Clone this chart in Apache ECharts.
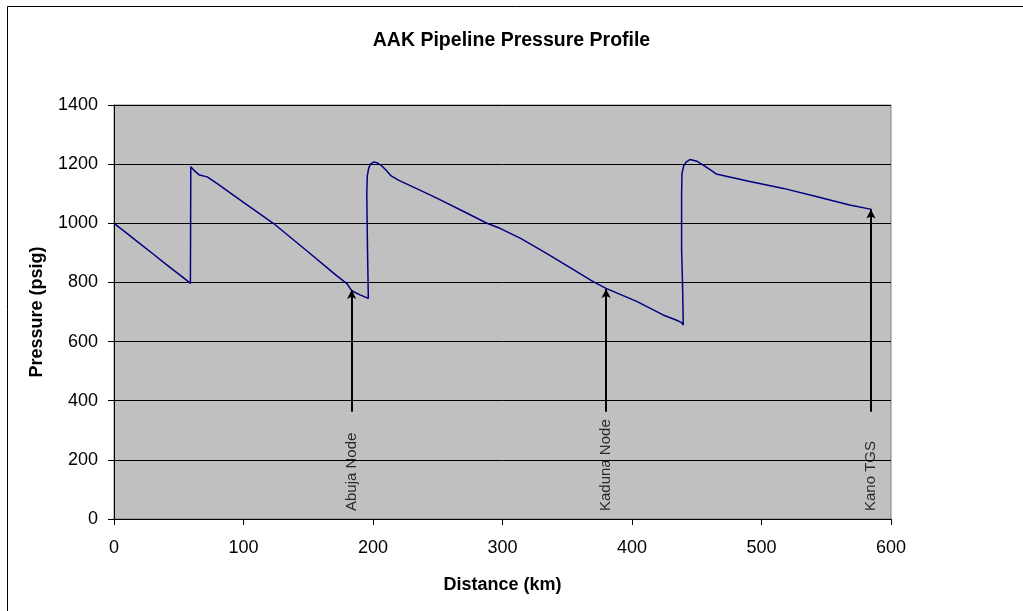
<!DOCTYPE html>
<html>
<head>
<meta charset="utf-8">
<title>AAK Pipeline Pressure Profile</title>
<script src="https://cdn.jsdelivr.net/npm/echarts@6/dist/echarts.min.js"></script>
<style>
  html, body { margin: 0; padding: 0; background: #fff; }
  #chart { width: 1023px; height: 611px; }
</style>
</head>
<body>
<div id="chart"></div>
<script>
  // distance along pipeline (km) and pressure (psig)
  var distance = [0, 10, 20, 30, 40, 50, 55, 59, 59.3, 62, 66, 72, 80, 100, 123, 150, 170, 180, 183.5, 190, 196.4,
    195.8, 195.2, 195.6, 196.6, 198, 200.5, 203, 206, 210, 214, 220, 230, 244, 252, 270, 288, 298, 314, 334, 350, 370, 380,
    404, 424, 434, 438, 439.6, 439, 438.3, 438.3, 438.6, 440, 442, 445, 450, 455, 460, 465, 491, 517, 543, 568, 585]
  var pressure = [1000, 966, 931, 897, 862, 828, 811, 797, 1191, 1178, 1163, 1157, 1133, 1071, 1000, 903, 830, 795, 772, 758, 746,
    900, 1100, 1160, 1185, 1200, 1207, 1205, 1197, 1180, 1160, 1145, 1125, 1096, 1079, 1040, 1000, 983, 949, 898, 856, 803, 780,
    735, 690, 673, 665, 656, 800, 910, 1100, 1169, 1195, 1208, 1216, 1210, 1197, 1182, 1167, 1141, 1118, 1090, 1062, 1047]

  // annotated nodes: position, arrow tip and label
  var nodeNames = ['Abuja Node', 'Kaduna Node', 'Kano TGS']
  var nodeKm = [183.5, 380, 584.5]
  var nodeTip = [774, 778, 1047]
  var arrowBase = 363
  var labelBase = 27

  var chart = echarts.init(document.getElementById('chart'))
  var font = 'Liberation Sans, Arial, sans-serif'

  var lineData = distance.map(function (d, i) { return [d, pressure[i]] })
  var arrows = nodeKm.map(function (x, i) {
    return [{ coord: [x, arrowBase] }, { coord: [x, nodeTip[i]] }]
  })
  var labels = nodeKm.map(function (x, i) {
    return { name: nodeNames[i], value: [x, labelBase] }
  })

  var option = {
    animation: false,
    backgroundColor: '#fff',
    title: {
      text: 'AAK Pipeline Pressure Profile',
      left: 'center',
      top: 26,
      textStyle: { fontFamily: font, fontSize: 19.5, fontWeight: 'bold', color: '#000' }
    },
    graphic: [{
      type: 'rect',
      shape: { x: 7.5, y: 6.5, width: 1030, height: 620 },
      style: { fill: 'none', stroke: '#000', lineWidth: 1 },
      silent: true
    }],
    grid: {
      left: 114, right: 132, top: 105, bottom: 92,
      show: true, backgroundColor: '#C0C0C0', borderColor: '#808080', borderWidth: 1
    },
    xAxis: {
      type: 'value', min: 0, max: 600, interval: 100,
      name: 'Distance (km)', nameLocation: 'middle', nameGap: 57,
      nameTextStyle: { fontFamily: font, fontSize: 18, fontWeight: 'bold', color: '#000' },
      axisLine: { onZero: false, lineStyle: { color: '#000', width: 1 } },
      axisTick: { show: true, inside: false, length: 6, lineStyle: { color: '#000', width: 1 } },
      axisLabel: { fontFamily: font, fontSize: 18, color: '#000', margin: 20 },
      splitLine: { show: false }
    },
    yAxis: {
      type: 'value', min: 0, max: 1400, interval: 200,
      name: 'Pressure (psig)', nameLocation: 'middle', nameGap: 68,
      nameTextStyle: { fontFamily: font, fontSize: 18, fontWeight: 'bold', color: '#000' },
      axisLine: { show: true, lineStyle: { color: '#000', width: 1 } },
      axisTick: { show: true, inside: false, length: 6, lineStyle: { color: '#000', width: 1 } },
      axisLabel: {
        fontFamily: font, fontSize: 18, color: '#000', margin: 16,
        formatter: function (v) { return String(v) }
      },
      splitLine: { show: true, lineStyle: { color: '#000', width: 1 } }
    },
    series: [
      {
        type: 'line',
        data: lineData,
        showSymbol: false,
        smooth: false,
        lineStyle: { color: '#000080', width: 1.5 },
        markLine: {
          silent: true,
          symbol: ['none', 'arrow'],
          symbolSize: [7, 9],
          label: { show: false },
          lineStyle: { color: '#000', width: 2, type: 'solid' },
          data: arrows
        }
      },
      {
        type: 'scatter',
        data: labels,
        symbolSize: 0,
        silent: true,
        label: {
          show: true,
          formatter: '{b}',
          position: [0, 0],
          rotate: 90,
          align: 'left',
          verticalAlign: 'middle',
          fontFamily: font,
          fontSize: 15,
          color: '#000'
        }
      }
    ]
  }

  chart.setOption(option)
</script>
</body>
</html>
